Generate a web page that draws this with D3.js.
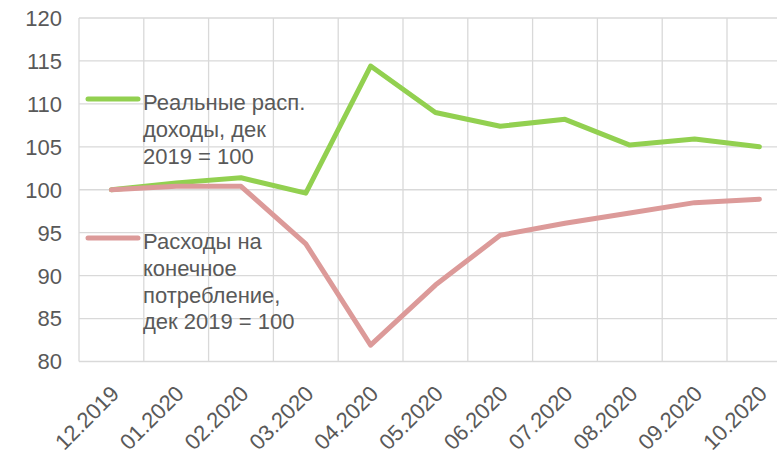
<!DOCTYPE html>
<html>
<head>
<meta charset="utf-8">
<script src="https://cdn.jsdelivr.net/npm/d3@7"></script>
<style>
  body { margin: 0; background: #fff; }
  svg { display: block; font-family: "Liberation Sans", Arial, sans-serif; }
</style>
</head>
<body>
<svg id="chart"></svg>
<script>
// Data
const months = ['12.2019', '01.2020', '02.2020', '03.2020', '04.2020', '05.2020',
                '06.2020', '07.2020', '08.2020', '09.2020', '10.2020'];
const income = [100, 100.8, 101.4, 99.6, 114.4, 109.0, 107.4, 108.2, 105.2, 105.9, 105.0];
const spending = [100, 100.4, 100.4, 93.7, 81.9, 88.9, 94.7, 96.1, 97.3, 98.5, 98.9];
const yTicks = [80, 85, 90, 95, 100, 105, 110, 115, 120];

const series = [
  { name: ['Реальные расп.', 'доходы, дек', '2019 = 100'], values: income, color: '#92d050', ly: 99 },
  { name: ['Расходы на', 'конечное', 'потребление,', 'дек 2019 = 100'], values: spending, color: '#dc9a99', ly: 238 }
];

const width = 777, height = 450;
const left = 79, step = 64.8;
const fontSize = 22;

const x = d3.scaleBand().domain(months).range([left, left + step * months.length]);
const y = d3.scaleLinear().domain([80, 120]).range([361.5, 18]);

const svg = d3.select('#chart').attr('width', width).attr('height', height);

// Grid
svg.append('g').selectAll('line')
  .data(yTicks)
  .enter().append('line')
  .attr('x1', left).attr('x2', x.range()[1])
  .attr('y1', d => y(d)).attr('y2', d => y(d))
  .attr('stroke', '#d9d9d9').attr('stroke-width', 1.3);

svg.append('g').selectAll('line')
  .data(months.concat(['end']))
  .enter().append('line')
  .attr('x1', (d, i) => left + i * step).attr('x2', (d, i) => left + i * step)
  .attr('y1', y(120)).attr('y2', y(80))
  .attr('stroke', '#d9d9d9').attr('stroke-width', 1.3);

// Y labels
svg.append('g').selectAll('text')
  .data(yTicks)
  .enter().append('text')
  .attr('x', 62)
  .attr('y', d => y(d))
  .attr('dy', '0.36em')
  .attr('text-anchor', 'end')
  .attr('font-size', fontSize)
  .attr('fill', '#595959')
  .text(d => d);

// X labels (rotated, bottom partly cut off like the original)
svg.append('g').selectAll('text')
  .data(months)
  .enter().append('text')
  .attr('transform', d => `translate(${x(d) + x.bandwidth() / 2 + 9},${395}) rotate(-45)`)
  .attr('text-anchor', 'end')
  .attr('font-size', fontSize)
  .attr('fill', '#595959')
  .text(d => d);

// Lines
const line = d3.line()
  .x((d, i) => x(months[i]) + x.bandwidth() / 2)
  .y(d => y(d));

svg.append('g').selectAll('path')
  .data(series)
  .enter().append('path')
  .attr('d', d => line(d.values))
  .attr('fill', 'none')
  .attr('stroke', d => d.color)
  .attr('stroke-width', 5)
  .attr('stroke-linejoin', 'round')
  .attr('stroke-linecap', 'round');

// Legend
const legend = svg.append('g').selectAll('g')
  .data(series)
  .enter().append('g');

legend.append('line')
  .attr('x1', 88).attr('x2', 138)
  .attr('y1', d => d.ly).attr('y2', d => d.ly)
  .attr('stroke', d => d.color)
  .attr('stroke-width', 5)
  .attr('stroke-linecap', 'round');

legend.append('text')
  .attr('font-size', fontSize)
  .attr('fill', '#595959')
  .selectAll('tspan')
  .data(d => d.name.map((t, i) => ({ t, i, ly: d.ly })))
  .enter().append('tspan')
  .attr('x', 143)
  .attr('y', d => d.ly + 11 + d.i * 26.8)
  .text(d => d.t);
</script>
</body>
</html>
